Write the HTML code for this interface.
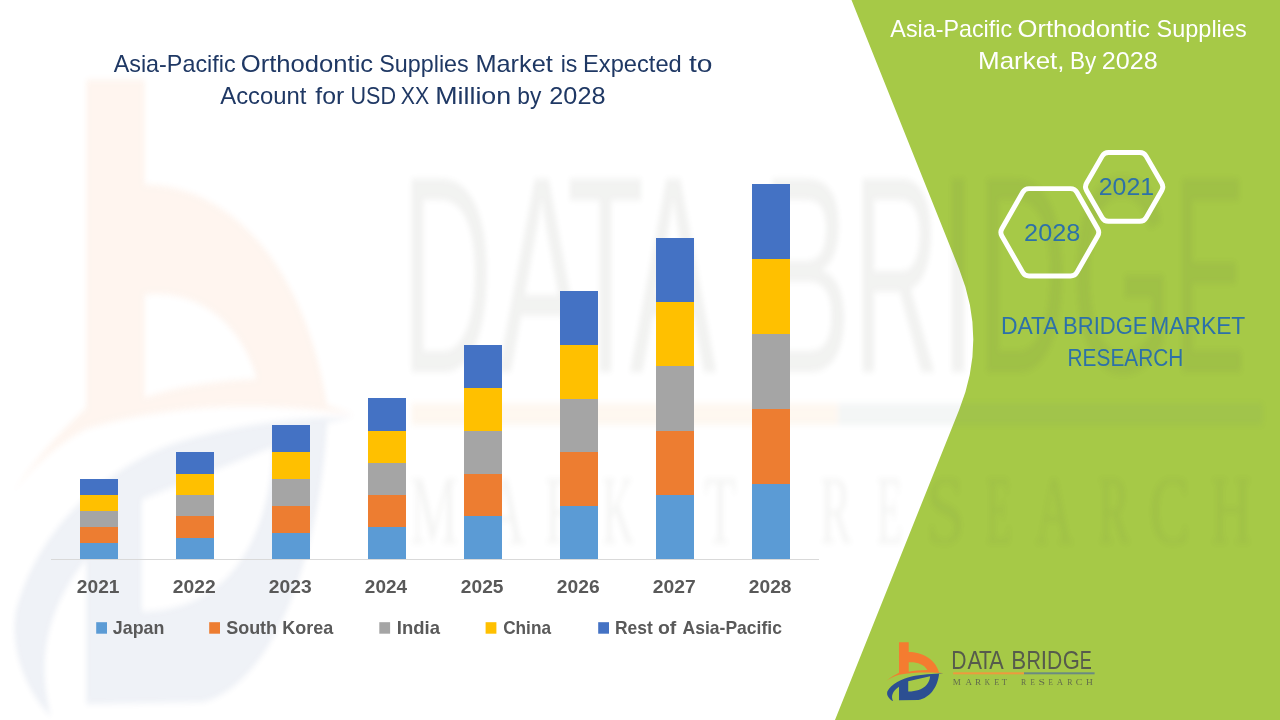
<!DOCTYPE html>
<html lang="en">
<head>
<meta charset="utf-8">
<title>Asia-Pacific Orthodontic Supplies Market</title>
<style>
  html, body { margin: 0; padding: 0; background: #ffffff; }
  body { width: 1280px; height: 720px; overflow: hidden; font-family: "Liberation Sans", sans-serif; }
  svg { display: block; }
  text { font-family: "Liberation Sans", sans-serif; }
  .serif text { font-family: "Liberation Serif", serif; }
</style>
</head>
<body>
<svg width="1280" height="720" viewBox="0 0 1280 720">
  <defs>
    <filter id="wmblur" filterUnits="userSpaceOnUse" x="-20" y="40" width="1320" height="720">
      <feGaussianBlur stdDeviation="2.8 3.2"/>
    </filter>
    <!-- logo mark drawn in a 10.29x zoomed coordinate space, origin = (880,636) of the page -->
    <g id="mark">
      <path fill="#F47C30" fill-rule="evenodd"
        d="M200,65 L300,65 L300,165 C430,165 570,230 612,375 L660,384 L612,381
           C480,372 330,376 200,398 C150,412 100,438 70,462 C110,428 160,398 200,378 Z
           M300,270 C380,265 460,290 492,350 C420,352 350,358 300,368 Z"/>
      <path fill="#2C4F92" fill-rule="evenodd"
        d="M658,386 C560,386 420,396 330,416 C230,440 120,490 80,570
           C68,610 100,650 140,672 C115,620 130,570 200,522
           L200,660 L400,658 C520,640 600,520 612,392 Z
           M295,465 L520,415 C515,480 470,570 295,572 Z"/>
    </g>
    <!-- logo wordmark in page-pixel space, origin = (880,636) of the page -->
    <g id="word">
      <g font-size="26" fill="#565B4C">
    <text x="71.37" y="33.4" textLength="15.24" lengthAdjust="spacingAndGlyphs">D</text>
    <text x="87.46" y="33.4" textLength="14.48" lengthAdjust="spacingAndGlyphs">A</text>
    <text x="98.93" y="33.4" textLength="12.80" lengthAdjust="spacingAndGlyphs">T</text>
    <text x="109.36" y="33.4" textLength="14.43" lengthAdjust="spacingAndGlyphs">A</text>
    <text x="131.27" y="33.4" textLength="14.91" lengthAdjust="spacingAndGlyphs">B</text>
    <text x="146.46" y="33.4" textLength="14.47" lengthAdjust="spacingAndGlyphs">R</text>
    <text x="160.82" y="33.4" textLength="6.26" lengthAdjust="spacingAndGlyphs">I</text>
    <text x="167.02" y="33.4" textLength="15.24" lengthAdjust="spacingAndGlyphs">D</text>
    <text x="182.64" y="33.4" textLength="17.10" lengthAdjust="spacingAndGlyphs">G</text>
    <text x="199.77" y="33.4" textLength="12.00" lengthAdjust="spacingAndGlyphs">E</text>
      </g>
      <rect x="73.1" y="36.3" width="70.9" height="2" fill="#EE9A3E"/>
      <rect x="144" y="36.3" width="70.6" height="2" fill="#6A8A82"/>
      <g class="serif" font-size="9" fill="#565B4C" fill-opacity="0.85">
    <text x="72.84" y="49.25" textLength="8.02" lengthAdjust="spacingAndGlyphs">M</text>
    <text x="85.51" y="49.25" textLength="6.45" lengthAdjust="spacingAndGlyphs">A</text>
    <text x="95.14" y="49.25" textLength="6.13" lengthAdjust="spacingAndGlyphs">R</text>
    <text x="104.79" y="49.25" textLength="5.29" lengthAdjust="spacingAndGlyphs">K</text>
    <text x="114.16" y="49.25" textLength="4.99" lengthAdjust="spacingAndGlyphs">E</text>
    <text x="121.74" y="49.25" textLength="5.30" lengthAdjust="spacingAndGlyphs">T</text>
    <text x="141.02" y="49.25" textLength="5.24" lengthAdjust="spacingAndGlyphs">R</text>
    <text x="150.39" y="49.25" textLength="4.36" lengthAdjust="spacingAndGlyphs">E</text>
    <text x="158.62" y="49.25" textLength="6.51" lengthAdjust="spacingAndGlyphs">S</text>
    <text x="168.55" y="49.25" textLength="4.30" lengthAdjust="spacingAndGlyphs">E</text>
    <text x="176.81" y="49.25" textLength="6.35" lengthAdjust="spacingAndGlyphs">A</text>
    <text x="187.27" y="49.25" textLength="5.24" lengthAdjust="spacingAndGlyphs">R</text>
    <text x="195.84" y="49.25" textLength="6.60" lengthAdjust="spacingAndGlyphs">C</text>
    <text x="205.98" y="49.25" textLength="6.80" lengthAdjust="spacingAndGlyphs">H</text>
      </g>
    </g>
  </defs>

  <rect x="0" y="0" width="1280" height="720" fill="#ffffff"/>

  <!-- green side panel -->
  <path d="M851.5,0 L959.3,269.4 Q987.3,339.4 959.3,409.4 L835,720 L1280,720 L1280,0 Z" fill="#A6C947"/>

  <!-- faint stretched watermark of the logo -->
  <g opacity="0.075" filter="url(#wmblur)">
    <g transform="matrix(6.014,0,0,10.8,-28,11.3)">
      <g transform="translate(-0.45,0) scale(0.0972)"><use href="#mark"/></g>
      <use href="#word"/>
    </g>
  </g>

  <!-- chart -->
  <rect x="51" y="559" width="768" height="1" fill="#D9D9D9"/>
  <g shape-rendering="crispEdges">
    <rect x="80.10" y="542.93" width="37.80" height="16.37" fill="#5B9BD5"/>
    <rect x="80.10" y="526.86" width="37.80" height="16.37" fill="#ED7D31"/>
    <rect x="80.10" y="510.79" width="37.80" height="16.37" fill="#A5A5A5"/>
    <rect x="80.10" y="494.71" width="37.80" height="16.37" fill="#FFC000"/>
    <rect x="80.10" y="478.64" width="37.80" height="16.37" fill="#4472C4"/>
    <rect x="176.10" y="537.57" width="37.80" height="21.73" fill="#5B9BD5"/>
    <rect x="176.10" y="516.14" width="37.80" height="21.73" fill="#ED7D31"/>
    <rect x="176.10" y="494.71" width="37.80" height="21.73" fill="#A5A5A5"/>
    <rect x="176.10" y="473.29" width="37.80" height="21.73" fill="#FFC000"/>
    <rect x="176.10" y="451.86" width="37.80" height="21.73" fill="#4472C4"/>
    <rect x="272.10" y="532.21" width="37.80" height="27.09" fill="#5B9BD5"/>
    <rect x="272.10" y="505.43" width="37.80" height="27.09" fill="#ED7D31"/>
    <rect x="272.10" y="478.64" width="37.80" height="27.09" fill="#A5A5A5"/>
    <rect x="272.10" y="451.86" width="37.80" height="27.09" fill="#FFC000"/>
    <rect x="272.10" y="425.07" width="37.80" height="27.09" fill="#4472C4"/>
    <rect x="368.10" y="526.86" width="37.80" height="32.44" fill="#5B9BD5"/>
    <rect x="368.10" y="494.71" width="37.80" height="32.44" fill="#ED7D31"/>
    <rect x="368.10" y="462.57" width="37.80" height="32.44" fill="#A5A5A5"/>
    <rect x="368.10" y="430.43" width="37.80" height="32.44" fill="#FFC000"/>
    <rect x="368.10" y="398.29" width="37.80" height="32.44" fill="#4472C4"/>
    <rect x="464.10" y="516.14" width="37.80" height="43.16" fill="#5B9BD5"/>
    <rect x="464.10" y="473.29" width="37.80" height="43.16" fill="#ED7D31"/>
    <rect x="464.10" y="430.43" width="37.80" height="43.16" fill="#A5A5A5"/>
    <rect x="464.10" y="387.57" width="37.80" height="43.16" fill="#FFC000"/>
    <rect x="464.10" y="344.71" width="37.80" height="43.16" fill="#4472C4"/>
    <rect x="560.10" y="505.43" width="37.80" height="53.87" fill="#5B9BD5"/>
    <rect x="560.10" y="451.86" width="37.80" height="53.87" fill="#ED7D31"/>
    <rect x="560.10" y="398.29" width="37.80" height="53.87" fill="#A5A5A5"/>
    <rect x="560.10" y="344.71" width="37.80" height="53.87" fill="#FFC000"/>
    <rect x="560.10" y="291.14" width="37.80" height="53.87" fill="#4472C4"/>
    <rect x="656.10" y="494.71" width="37.80" height="64.59" fill="#5B9BD5"/>
    <rect x="656.10" y="430.43" width="37.80" height="64.59" fill="#ED7D31"/>
    <rect x="656.10" y="366.14" width="37.80" height="64.59" fill="#A5A5A5"/>
    <rect x="656.10" y="301.86" width="37.80" height="64.59" fill="#FFC000"/>
    <rect x="656.10" y="237.57" width="37.80" height="64.59" fill="#4472C4"/>
    <rect x="752.10" y="484.00" width="37.80" height="75.30" fill="#5B9BD5"/>
    <rect x="752.10" y="409.00" width="37.80" height="75.30" fill="#ED7D31"/>
    <rect x="752.10" y="334.00" width="37.80" height="75.30" fill="#A5A5A5"/>
    <rect x="752.10" y="259.00" width="37.80" height="75.30" fill="#FFC000"/>
    <rect x="752.10" y="184.00" width="37.80" height="75.30" fill="#4472C4"/>
  </g>
  <g font-size="18.5" font-weight="bold" fill="#595959">
    <text x="76.89" y="592.8" textLength="42.60" lengthAdjust="spacingAndGlyphs">2021</text>
    <text x="172.88" y="592.8" textLength="42.84" lengthAdjust="spacingAndGlyphs">2022</text>
    <text x="268.88" y="592.8" textLength="42.76" lengthAdjust="spacingAndGlyphs">2023</text>
    <text x="364.89" y="592.8" textLength="42.16" lengthAdjust="spacingAndGlyphs">2024</text>
    <text x="460.89" y="592.8" textLength="42.60" lengthAdjust="spacingAndGlyphs">2025</text>
    <text x="556.88" y="592.8" textLength="42.76" lengthAdjust="spacingAndGlyphs">2026</text>
    <text x="652.88" y="592.8" textLength="42.92" lengthAdjust="spacingAndGlyphs">2027</text>
    <text x="748.89" y="592.8" textLength="42.65" lengthAdjust="spacingAndGlyphs">2028</text>
  </g>
  <g>
    <rect x="96.2" y="622.2" width="10.8" height="11.5" fill="#5B9BD5"/>
    <rect x="209.2" y="622.2" width="10.8" height="11.5" fill="#ED7D31"/>
    <rect x="379.3" y="622.2" width="10.8" height="11.5" fill="#A5A5A5"/>
    <rect x="485.6" y="622.2" width="10.8" height="11.5" fill="#FFC000"/>
    <rect x="598.2" y="622.2" width="10.8" height="11.5" fill="#4472C4"/>
  </g>
  <g font-size="17.7" font-weight="bold" fill="#595959">
    <text x="112.83" y="633.6" textLength="51.58" lengthAdjust="spacingAndGlyphs">Japan</text>
    <text x="226.18" y="633.6" textLength="50.93" lengthAdjust="spacingAndGlyphs">South</text>
    <text x="282.20" y="633.6" textLength="50.99" lengthAdjust="spacingAndGlyphs">Korea</text>
    <text x="396.86" y="633.6" textLength="43.12" lengthAdjust="spacingAndGlyphs">India</text>
    <text x="503.19" y="633.6" textLength="47.80" lengthAdjust="spacingAndGlyphs">China</text>
    <text x="614.93" y="633.6" textLength="37.78" lengthAdjust="spacingAndGlyphs">Rest</text>
    <text x="657.99" y="633.6" textLength="18.37" lengthAdjust="spacingAndGlyphs">of</text>
    <text x="682.56" y="633.6" textLength="99.35" lengthAdjust="spacingAndGlyphs">Asia-Pacific</text>
  </g>

  <!-- chart title -->
  <g font-size="24" fill="#1F3864">
    <text x="113.70" y="71.7" textLength="121.91" lengthAdjust="spacingAndGlyphs">Asia-Pacific</text>
    <text x="240.79" y="71.7" textLength="132.39" lengthAdjust="spacingAndGlyphs">Orthodontic</text>
    <text x="379.34" y="71.7" textLength="89.40" lengthAdjust="spacingAndGlyphs">Supplies</text>
    <text x="475.42" y="71.7" textLength="77.46" lengthAdjust="spacingAndGlyphs">Market</text>
    <text x="560.65" y="71.7" textLength="16.68" lengthAdjust="spacingAndGlyphs">is</text>
    <text x="583.06" y="71.7" textLength="98.72" lengthAdjust="spacingAndGlyphs">Expected</text>
    <text x="688.97" y="71.7" textLength="23.46" lengthAdjust="spacingAndGlyphs">to</text>
    <text x="220.25" y="103.7" textLength="86.22" lengthAdjust="spacingAndGlyphs">Account</text>
    <text x="315.25" y="103.7" textLength="28.91" lengthAdjust="spacingAndGlyphs">for</text>
    <text x="350.54" y="103.7" textLength="45.49" lengthAdjust="spacingAndGlyphs">USD</text>
    <text x="400.77" y="103.7" textLength="28.43" lengthAdjust="spacingAndGlyphs">XX</text>
    <text x="435.30" y="103.7" textLength="75.83" lengthAdjust="spacingAndGlyphs">Million</text>
    <text x="517.28" y="103.7" textLength="24.01" lengthAdjust="spacingAndGlyphs">by</text>
    <text x="549.33" y="103.7" textLength="56.17" lengthAdjust="spacingAndGlyphs">2028</text>
  </g>

  <!-- right panel title -->
  <g font-size="24" fill="#ffffff">
    <text x="890.35" y="36.8" textLength="121.76" lengthAdjust="spacingAndGlyphs">Asia-Pacific</text>
    <text x="1017.49" y="36.8" textLength="132.49" lengthAdjust="spacingAndGlyphs">Orthodontic</text>
    <text x="1156.53" y="36.8" textLength="90.12" lengthAdjust="spacingAndGlyphs">Supplies</text>
    <text x="978.07" y="68.7" textLength="86.46" lengthAdjust="spacingAndGlyphs">Market,</text>
    <text x="1070.06" y="68.7" textLength="26.24" lengthAdjust="spacingAndGlyphs">By</text>
    <text x="1101.83" y="68.7" textLength="55.96" lengthAdjust="spacingAndGlyphs">2028</text>
  </g>

  <!-- hexagons -->
  <g fill="none" stroke="#ffffff" stroke-width="4.9" stroke-linejoin="round">
    <path d="M1001.89,236.00 Q999.80,232.35 1001.89,228.70 L1022.71,192.30 Q1024.80,188.65 1029.00,188.65 L1070.60,188.65 Q1074.80,188.65 1076.89,192.30 L1097.71,228.70 Q1099.80,232.35 1097.71,236.00 L1076.89,272.40 Q1074.80,276.05 1070.60,276.05 L1029.00,276.05 Q1024.80,276.05 1022.71,272.40 Z"/>
    <path d="M1086.50,190.54 Q1084.40,186.90 1086.50,183.26 L1102.18,156.11 Q1104.28,152.48 1108.48,152.48 L1139.83,152.48 Q1144.03,152.48 1146.12,156.11 L1161.80,183.26 Q1163.90,186.90 1161.80,190.54 L1146.12,217.69 Q1144.03,221.32 1139.83,221.32 L1108.48,221.32 Q1104.28,221.32 1102.18,217.69 Z"/>
  </g>
  <g font-size="23" fill="#2D71A8">
    <text x="1024.13" y="241.0" textLength="56.17" lengthAdjust="spacingAndGlyphs">2028</text>
    <text x="1098.75" y="194.6" textLength="55.37" lengthAdjust="spacingAndGlyphs">2021</text>
  </g>

  <!-- DBMR caption -->
  <g font-size="24.4" fill="#2D71A8">
    <text x="1000.92" y="333.8" textLength="57.72" lengthAdjust="spacingAndGlyphs">DATA</text>
    <text x="1063.10" y="333.8" textLength="84.35" lengthAdjust="spacingAndGlyphs">BRIDGE</text>
    <text x="1150.13" y="333.8" textLength="95.20" lengthAdjust="spacingAndGlyphs">MARKET</text>
    <text x="1067.59" y="365.8" textLength="115.71" lengthAdjust="spacingAndGlyphs">RESEARCH</text>
  </g>

  <!-- small logo -->
  <g transform="translate(880,636)">
    <g transform="translate(-0.45,0) scale(0.0972)"><use href="#mark"/></g>
    <use href="#word"/>
  </g>
</svg>
</body>
</html>
